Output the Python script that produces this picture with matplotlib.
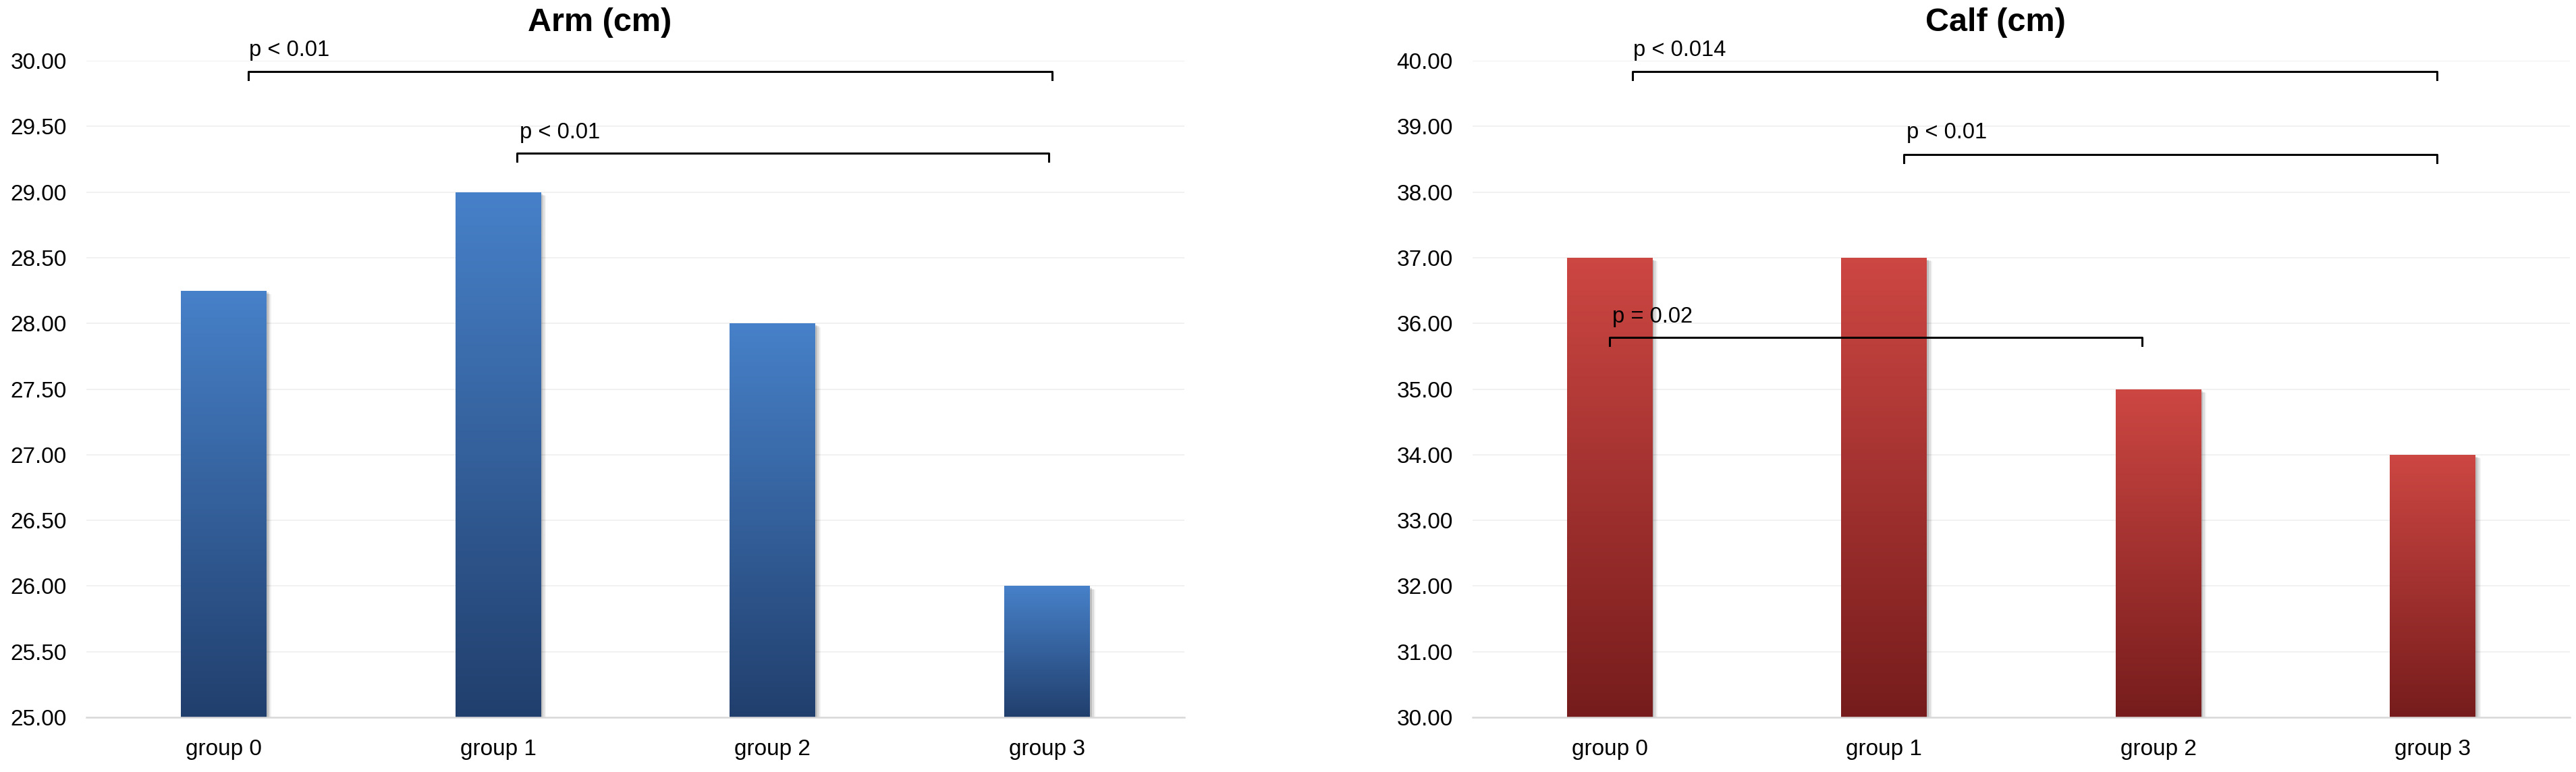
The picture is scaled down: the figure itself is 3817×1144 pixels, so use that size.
import numpy as np
import matplotlib
matplotlib.use("Agg")
import matplotlib.pyplot as plt
import matplotlib.patheffects as pe
from matplotlib.colors import LinearSegmentedColormap

plt.rcParams['font.family'] = ['Liberation Sans', 'DejaVu Sans']

# data
groups = ['group 0', 'group 1', 'group 2', 'group 3']
arm = [28.25, 29.0, 28.0, 26.0]
calf = [37.0, 37.0, 35.0, 34.0]

# significance brackets: (x start, x end, y, label, text x, text y)
arm_sig = [(0.09, 3.017, 29.918, 'p < 0.01', 0.093, 30.036),
           (1.069, 3.007, 29.296, 'p < 0.01', 1.079, 29.41)]
calf_sig = [(0.084, 3.016, 39.836, 'p < 0.014', 0.086, 40.072),
            (1.073, 3.016, 38.57, 'p < 0.01', 1.082, 38.82),
            (0.0, 1.94, 35.79, 'p = 0.02', 0.01, 36.01)]


def gradient_bars(ax, vals, ymin, top_col, bot_col):
    cmap = LinearSegmentedColormap.from_list('g', [bot_col, top_col])
    x = np.arange(len(vals))
    bars = ax.bar(x, np.array(vals) - ymin, bottom=ymin, width=0.312,
                  color=top_col, zorder=3,
                  path_effects=[pe.SimplePatchShadow(offset=(2, -2), shadow_rgbFace='k', alpha=0.13),
                                pe.SimplePatchShadow(offset=(4, -3), shadow_rgbFace='k', alpha=0.09),
                                pe.SimplePatchShadow(offset=(5.5, -4), shadow_rgbFace='k', alpha=0.05),
                                pe.Normal()])
    grad = np.linspace(0, 1, 256).reshape(-1, 1)
    for b in bars:
        x0, y0 = b.get_x(), b.get_y()
        im = ax.imshow(grad, cmap=cmap, origin='lower', aspect='auto',
                       extent=(x0, x0 + b.get_width(), y0, y0 + b.get_height()),
                       zorder=4)
        im.set_clip_path(b)


def draw_panel(ax, vals, ymin, ymax, step, top_col, bot_col, title, sig, title_x):
    gradient_bars(ax, vals, ymin, top_col, bot_col)
    ax.set_xlim(-0.5, len(vals) - 0.5)
    ax.set_ylim(ymin, ymax)
    ax.set_yticks(np.arange(ymin, ymax + step / 2, step))
    ax.yaxis.set_major_formatter(matplotlib.ticker.FormatStrFormatter('%.2f'))
    ax.set_xticks(range(len(groups)))
    ax.set_xticklabels(groups)
    ax.tick_params(axis='y', length=0, pad=21, labelsize=24)
    ax.tick_params(axis='x', length=0, pad=23, labelsize=24)
    ax.yaxis.grid(True, color='#EFEFEF', lw=1.2, zorder=0)
    ax.set_axisbelow(True)
    for s in ['top', 'right', 'left']:
        ax.spines[s].set_visible(False)
    ax.spines['bottom'].set_color('#D9D9D9')
    ax.spines['bottom'].set_linewidth(1.8)
    ax.spines['bottom'].set_zorder(5)

    drop = 0.0125 * (ymax - ymin)
    for xa, xb, y, lab, tx, ty in sig:
        ax.plot([xa, xa, xb, xb], [y - drop, y, y, y - drop], color='black',
                lw=2.2, solid_joinstyle='round', clip_on=False, zorder=6)
        ax.text(tx, ty, lab, fontsize=23.5, ha='left', va='baseline', zorder=6)

    ax.figure.text(title_x, 1 - 46 / 1144, title, fontsize=35, fontweight='bold',
                   ha='center', va='baseline')


fig = plt.figure(figsize=(38.17, 11.44), dpi=100)
ax1 = fig.add_axes([0.03353, 0.0708, 0.42625, 0.85053])
ax2 = fig.add_axes([0.57165, 0.0708, 0.42599, 0.85053])

draw_panel(ax1, arm, 25, 30, 0.5, '#4781C9', '#213F6D', 'Arm (cm)', arm_sig, 889 / 3817)
draw_panel(ax2, calf, 30, 40, 1, '#CD4743', '#761C1C', 'Calf (cm)', calf_sig, 2957 / 3817)

fig.savefig('out.png', dpi=100)
